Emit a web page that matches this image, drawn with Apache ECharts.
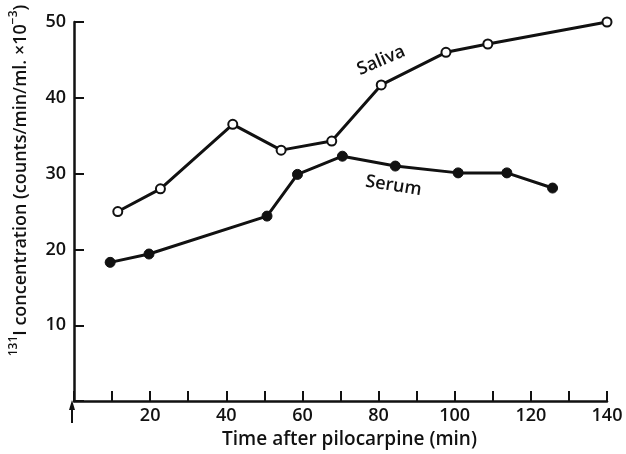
<!DOCTYPE html>
<html>
<head>
<meta charset="utf-8">
<script src="https://cdn.jsdelivr.net/npm/echarts@6/dist/echarts.min.js"></script>
<style>
  html, body { margin: 0; padding: 0; background: #fff; }
  #chart { width: 626px; height: 454px; }
</style>
</head>
<body>
<div id="chart"></div>
<script>
// points: [time (min), counts/min/ml x 10^-3]
var saliva = [[11.5, 25], [22.7, 28], [41.7, 36.5], [54.4, 33.1], [67.7, 34.3],
              [80.7, 41.7], [97.7, 46], [108.7, 47.1], [140, 50]];
var serum = [[9.5, 18.3], [19.7, 19.4], [50.7, 24.4], [58.7, 29.9], [70.5, 32.3],
             [84.4, 31], [100.9, 30.1], [113.7, 30.1], [125.7, 28.1]];
var xTicks = [0, 140, 10];   // min, max, step
var yTicks = [0, 50, 10];
var salivaLabelAt = [80.7, 44.9];
var serumLabelAt = [83.9, 28.4];

var font = 'Open Sans';
var ink = '#111';

function seriesLabel(text, at, angle) {
    return {
        symbol: 'circle',
        symbolSize: 1,
        itemStyle: { color: 'rgba(0,0,0,0)', borderWidth: 0 },
        data: [{ coord: at }],
        label: {
            show: true, position: 'inside', formatter: text, rotate: angle,
            fontFamily: font, fontSize: 18, fontWeight: 600, color: ink
        }
    };
}

var chart = echarts.init(document.getElementById('chart'));
var option = {
    animation: false,
    backgroundColor: '#fff',
    grid: { left: 71, right: 19, top: 22, bottom: 50 },
    xAxis: {
        type: 'value',
        min: xTicks[0], max: xTicks[1], interval: xTicks[2],
        name: 'Time after pilocarpine (min)',
        nameLocation: 'middle',
        nameGap: 24,
        nameTextStyle: { fontFamily: font, fontSize: 19, fontWeight: 600, color: ink, padding: [0, 0, 0, 18] },
        axisLine: { lineStyle: { color: ink, width: 2.5 } },
        axisTick: { inside: true, length: 10, lineStyle: { color: ink, width: 2 } },
        axisLabel: {
            margin: 6, fontFamily: font, fontSize: 18, fontWeight: 600, color: ink,
            formatter: function (v) { return (v > 0 && v % 20 === 0) ? String(v) : ''; }
        },
        splitLine: { show: false }
    },
    yAxis: {
        type: 'value',
        min: yTicks[0], max: yTicks[1], interval: yTicks[2],
        name: '{s|131}{n|I concentration (counts/min/ml. \u00d710}{s|\u22123}{n|)}',
        nameLocation: 'middle',
        nameGap: 44,
        nameTextStyle: {
            fontFamily: font, fontSize: 18, color: ink, padding: [0, 0, 0, 62],
            rich: {
                n: { fontFamily: font, fontSize: 18, fontWeight: 600, color: ink, lineHeight: 22, verticalAlign: 'bottom' },
                s: { fontFamily: font, fontSize: 12, fontWeight: 600, color: ink, lineHeight: 22, verticalAlign: 'top' }
            }
        },
        axisLine: { lineStyle: { color: ink, width: 2.5 } },
        axisTick: { inside: true, length: 10, lineStyle: { color: ink, width: 2 } },
        axisLabel: {
            margin: 8, fontFamily: font, fontSize: 18, fontWeight: 600, color: ink,
            formatter: function (v) { return v > 0 ? String(v) : ''; }
        },
        splitLine: { show: false }
    },
    series: [
        {
            name: 'Saliva',
            type: 'line',
            data: saliva,
            symbol: 'circle',
            symbolSize: 9,
            itemStyle: { color: '#fff', borderColor: ink, borderWidth: 2 },
            lineStyle: { color: ink, width: 3 },
            z: 3,
            markPoint: seriesLabel('Saliva', salivaLabelAt, 23)
        },
        {
            name: 'Serum',
            type: 'line',
            data: serum,
            symbol: 'circle',
            symbolSize: 10,
            itemStyle: { color: ink, borderColor: ink, borderWidth: 1 },
            lineStyle: { color: ink, width: 3 },
            z: 3,
            markPoint: seriesLabel('Serum', serumLabelAt, -9)
        }
    ]
};
chart.setOption(option);

// small upward arrow under the origin
var o = chart.convertToPixel({ gridIndex: 0 }, [0, 0]);
chart.setOption({
    graphic: [
        {
            type: 'line',
            shape: { x1: o[0] - 2, y1: o[1] + 2, x2: o[0] - 2, y2: o[1] + 22 },
            style: { stroke: ink, lineWidth: 2 }
        },
        {
            type: 'polygon',
            shape: { points: [[o[0] - 2, o[1] - 1], [o[0] - 5, o[1] + 9], [o[0] + 1, o[1] + 9]] },
            style: { fill: ink }
        }
    ]
});
</script>
</body>
</html>
